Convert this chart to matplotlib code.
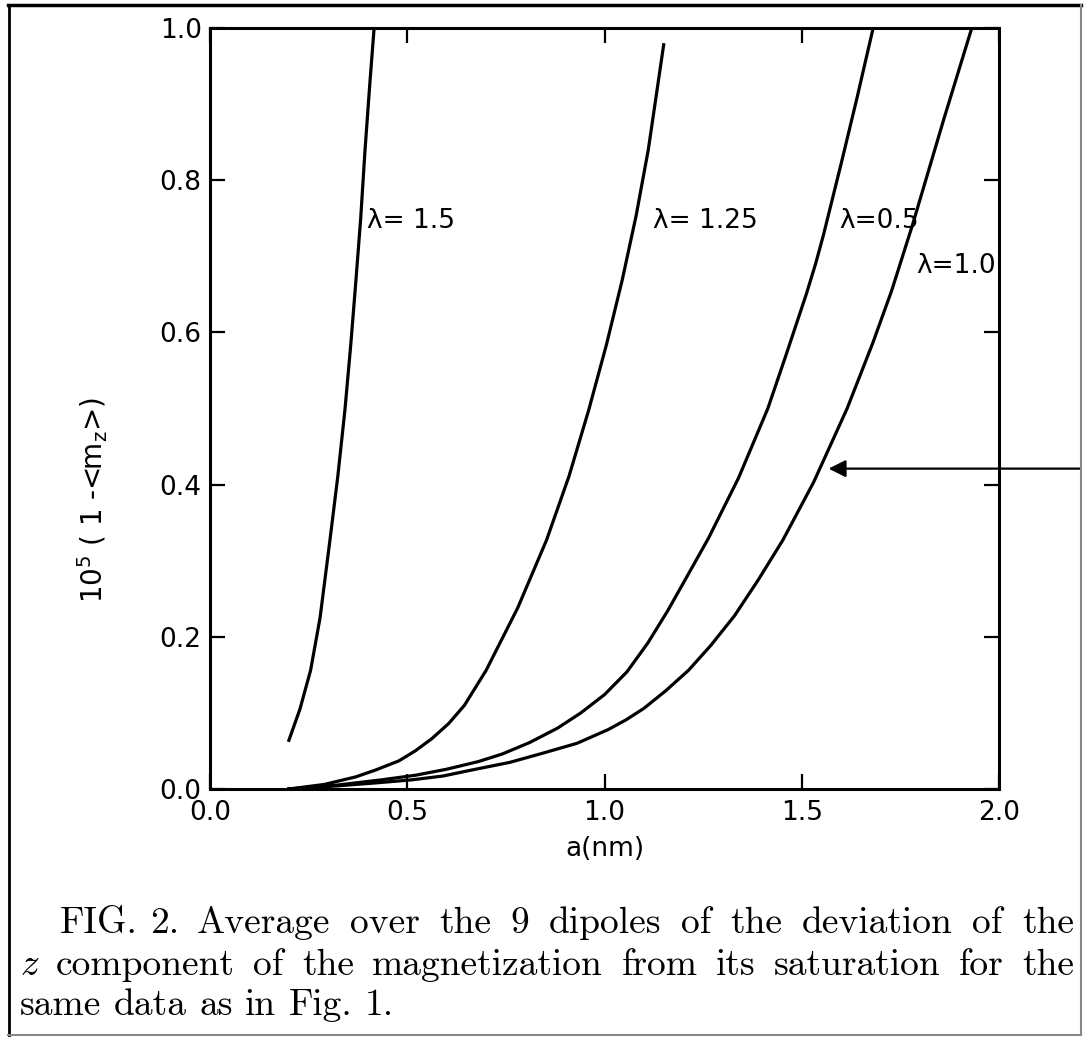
import numpy as np
import matplotlib.pyplot as plt
from matplotlib.lines import Line2D

# ------------------------------
# curves: a (nm) vs 10^5 (1-<m_z>)
# ------------------------------
a_l15 = [0.200, 0.228, 0.255, 0.279, 0.304, 0.324, 0.342, 0.357, 0.370, 0.382, 0.393, 0.405, 0.416]
m_l15 = [0.064, 0.105, 0.156, 0.225, 0.327, 0.411, 0.498, 0.585, 0.669, 0.750, 0.840, 0.926, 1.000]

a_l125 = [0.200, 0.290, 0.370, 0.420, 0.479, 0.520, 0.562, 0.605, 0.645, 0.700, 0.780, 0.853,
          0.910, 0.960, 1.005, 1.045, 1.080, 1.111, 1.150]
m_l125 = [0.000, 0.006, 0.016, 0.025, 0.037, 0.050, 0.066, 0.086, 0.110, 0.156, 0.238, 0.327,
          0.411, 0.498, 0.584, 0.669, 0.753, 0.840, 0.978]

a_l05 = [0.200, 0.320, 0.434, 0.520, 0.600, 0.680, 0.741, 0.810, 0.881, 0.940, 1.000, 1.057,
         1.110, 1.160, 1.210, 1.264, 1.340, 1.414, 1.460, 1.512, 1.535, 1.555, 1.600, 1.640, 1.681]
m_l05 = [0.000, 0.005, 0.012, 0.018, 0.026, 0.036, 0.046, 0.061, 0.080, 0.100, 0.124, 0.154,
         0.192, 0.234, 0.280, 0.330, 0.409, 0.500, 0.570, 0.651, 0.690, 0.728, 0.822, 0.908, 1.000]

a_l10 = [0.200, 0.320, 0.420, 0.511, 0.590, 0.664, 0.760, 0.843, 0.930, 1.009, 1.055, 1.100,
         1.155, 1.213, 1.270, 1.330, 1.390, 1.452, 1.530, 1.615, 1.680, 1.728, 1.780, 1.860, 1.931]
m_l10 = [0.000, 0.004, 0.008, 0.012, 0.017, 0.025, 0.035, 0.047, 0.060, 0.078, 0.091, 0.106,
         0.129, 0.156, 0.189, 0.228, 0.275, 0.327, 0.403, 0.500, 0.586, 0.655, 0.740, 0.880, 1.000]

labels = ["λ= 1.5", "λ= 1.25", "λ=0.5", "λ=1.0"]
label_xy = [(0.398, 0.746), (1.122, 0.746), (1.594, 0.746), (1.790, 0.687)]

x_ticks = [0.0, 0.5, 1.0, 1.5, 2.0]
y_ticks = [0.0, 0.2, 0.4, 0.6, 0.8, 1.0]

arrow_tip = (1.568, 0.421)
arrow_tail = (2.205, 0.421)

caption = [
    "FIG. 2.",
    "Average over the 9 dipoles of the deviation of the",
    "z component of the magnetization from its saturation for the",
    "same data as in Fig. 1.",
]

W, H = 1086, 1038
fig = plt.figure(figsize=(W / 100, H / 100), dpi=100)
ax = fig.add_axes([210 / W, 1 - 789 / H, 789 / W, 761 / H])

for xs, ys in [(a_l15, m_l15), (a_l125, m_l125), (a_l05, m_l05), (a_l10, m_l10)]:
    ax.plot(xs, ys, color='black', lw=2.3, solid_joinstyle='round')

for txt, (x, y) in zip(labels, label_xy):
    ax.text(x, y, txt, fontsize=19, ha='left', va='center')

ax.annotate('', xy=arrow_tip, xytext=arrow_tail, annotation_clip=False,
            arrowprops=dict(arrowstyle='-|>', lw=1.6, color='black',
                            mutation_scale=26, shrinkA=0, shrinkB=0))

ax.set_xlim(0, 2.0)
ax.set_ylim(0, 1.0)
ax.set_xticks(x_ticks)
ax.set_yticks(y_ticks)
ax.set_xticklabels([f"{v:.1f}" for v in x_ticks])
ax.set_yticklabels([f"{v:.1f}" for v in y_ticks])
ax.tick_params(direction='in', length=11, width=1.6, labelsize=19,
               top=True, right=True)
ax.tick_params(axis='x', pad=8)
ax.tick_params(axis='y', pad=6)
for s in ax.spines.values():
    s.set_linewidth(2.2)

ax.set_xlabel("a(nm)", fontsize=19)
ax.xaxis.set_label_coords(0.5, -0.062)
ax.set_ylabel(r"$\mathregular{10^5}$ ( 1 -<m$\mathregular{_z}$>)", fontsize=20)
ax.yaxis.set_label_coords(-0.127, 0.38)

# outer frame
fig.add_artist(Line2D([8 / W, 1081 / W], [1 - 5 / H, 1 - 5 / H], color='black', lw=2.5))
fig.add_artist(Line2D([9 / W, 9 / W], [1 - 5 / H, 1 - 1035 / H], color='black', lw=2.0))
fig.add_artist(Line2D([1081 / W, 1081 / W], [1 - 5 / H, 1 - 1035 / H], color='#888888', lw=1.5))
fig.add_artist(Line2D([8 / W, 1081 / W], [1 - 1035 / H, 1 - 1035 / H], color='#888888', lw=1.5))

# caption, justified word by word
fs = 27
renderer = fig.canvas.get_renderer()


def put_line(text, x0, x1, base, justify=True):
    words = text.split(' ')
    objs = []
    for w in words:
        fam = 'cmmi10' if w == 'z' else 'cmr10'
        objs.append(fig.text(0, 1 - base / H, w, fontsize=fs, family=fam,
                             ha='left', va='baseline'))
    widths = [t.get_window_extent(renderer).width for t in objs]
    if justify and len(objs) > 1:
        gap = (x1 - x0 - sum(widths)) / (len(objs) - 1)
    else:
        gap = fs * 100 / 72 * 0.333
    x = x0
    for t, w in zip(objs, widths):
        t.set_x(x / W)
        x += w + gap


put_line(caption[0], 60, 0, 933, justify=False)
put_line(caption[1], 197, 1074, 933)
put_line(caption[2], 20, 1074, 975)
put_line(caption[3], 20, 0, 1015, justify=False)

fig.savefig('out.png', dpi=100)
